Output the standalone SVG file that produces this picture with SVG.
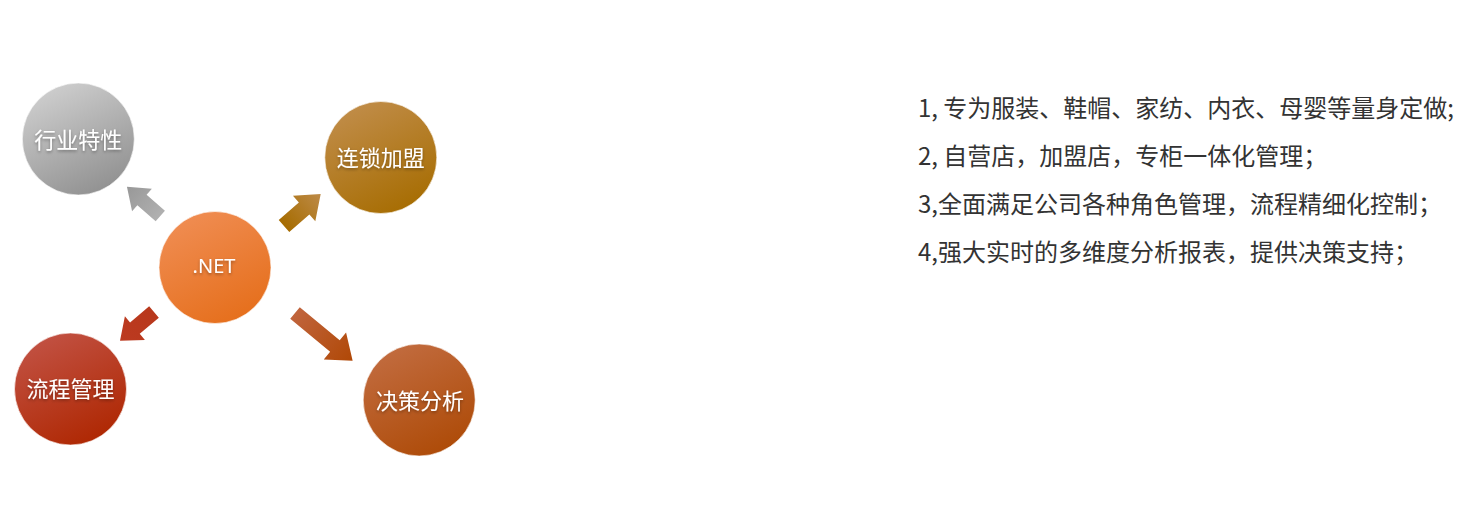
<svg xmlns="http://www.w3.org/2000/svg" width="1479" height="522" viewBox="0 0 1479 522">
  <style>
    .lbl { font-family: "Noto Sans CJK SC", "Noto Sans", sans-serif; font-size: 22px; fill: #ffffff; text-anchor: middle; dominant-baseline: central; }
    .net { font-family: "Noto Sans", "Noto Sans CJK SC", sans-serif; font-size: 20px; fill: #ffffff; text-anchor: middle; }
    .item { font-family: "Noto Sans CJK SC", "Noto Sans", sans-serif; font-size: 24px; fill: #333333; }
    .ring { stroke: #ffffff; stroke-opacity: 0.6; stroke-width: 1; }
  </style>
  <defs>
    <linearGradient id="gGray" x1="0.25" y1="0" x2="0.75" y2="1">
      <stop offset="0" stop-color="#cfcfcf"/>
      <stop offset="1" stop-color="#8f8f8f"/>
    </linearGradient>
    <linearGradient id="gGold" x1="0.25" y1="0" x2="0.75" y2="1">
      <stop offset="0" stop-color="#c18d4a"/>
      <stop offset="1" stop-color="#a66c00"/>
    </linearGradient>
    <linearGradient id="gNet" x1="0.25" y1="0" x2="0.75" y2="1">
      <stop offset="0" stop-color="#f08d53"/>
      <stop offset="1" stop-color="#e56e1a"/>
    </linearGradient>
    <linearGradient id="gRed" x1="0.25" y1="0" x2="0.75" y2="1">
      <stop offset="0" stop-color="#c25244"/>
      <stop offset="1" stop-color="#ae2600"/>
    </linearGradient>
    <linearGradient id="gBrown" x1="0.25" y1="0" x2="0.75" y2="1">
      <stop offset="0" stop-color="#c26c40"/>
      <stop offset="1" stop-color="#ad4a06"/>
    </linearGradient>
    <linearGradient id="aGray" x1="0" y1="0" x2="1" y2="0">
      <stop offset="0" stop-color="#b0b0b0"/>
      <stop offset="1" stop-color="#989898"/>
    </linearGradient>
    <linearGradient id="aGold" x1="0" y1="0" x2="1" y2="0">
      <stop offset="0" stop-color="#a66c00"/>
      <stop offset="1" stop-color="#bd8a47"/>
    </linearGradient>
    <linearGradient id="aRed" x1="0" y1="0" x2="1" y2="0">
      <stop offset="0" stop-color="#b8381c"/>
      <stop offset="1" stop-color="#bc3a20"/>
    </linearGradient>
    <linearGradient id="aBrown" x1="0" y1="0" x2="1" y2="0">
      <stop offset="0" stop-color="#c0643c"/>
      <stop offset="1" stop-color="#b04806"/>
    </linearGradient>
    <filter id="shadow" x="-20%" y="-40%" width="140%" height="180%">
      <feDropShadow dx="0" dy="1.5" stdDeviation="1.5" flood-color="#000000" flood-opacity="0.35"/>
    </filter>
  </defs>

  <g id="connectors">
    <path transform="translate(160.3,216) rotate(221.3)" d="M0,-7 L24.4,-7 L24.4,-15 L44.4,0 L24.4,15 L24.4,7 L0,7 Z" fill="url(#aGray)"/>
    <path transform="translate(284,226) rotate(-41.1)" d="M0,-8 L26.7,-8 L26.7,-17 L48.7,0 L26.7,17 L26.7,8 L0,8 Z" fill="url(#aGold)"/>
    <path transform="translate(154,312) rotate(139.8)" d="M0,-7.5 L25,-7.5 L25,-15.5 L44.5,0 L25,15.5 L25,7.5 L0,7.5 Z" fill="url(#aRed)"/>
    <path transform="translate(295,313) rotate(39.6)" d="M0,-7.5 L51.8,-7.5 L51.8,-17.5 L74.8,0 L51.8,17.5 L51.8,7.5 L0,7.5 Z" fill="url(#aBrown)"/>
  </g>

  <g id="node-industry">
    <circle cx="78.3" cy="139" r="56" fill="url(#gGray)" class="ring"/>
    <text x="78.3" y="137.5" class="lbl" filter="url(#shadow)">行业特性</text>
  </g>

  <g id="node-chain">
    <circle cx="380.8" cy="157.5" r="56" fill="url(#gGold)" class="ring"/>
    <text x="380.8" y="155.5" class="lbl" filter="url(#shadow)">连锁加盟</text>
  </g>

  <g id="node-net">
    <circle cx="215" cy="267.5" r="56" fill="url(#gNet)" class="ring"/>
    <text x="214" y="272.7" class="net" filter="url(#shadow)">.NET</text>
  </g>

  <g id="node-process">
    <circle cx="70.5" cy="389" r="56" fill="url(#gRed)" class="ring"/>
    <text x="70.5" y="387" class="lbl" filter="url(#shadow)">流程管理</text>
  </g>

  <g id="node-decision">
    <circle cx="419.2" cy="400" r="56" fill="url(#gBrown)" class="ring"/>
    <text x="420" y="398.5" class="lbl" filter="url(#shadow)">决策分析</text>
  </g>

  <g id="feature-list">
    <text x="918" y="117" class="item">1, 专为服装、鞋帽、家纺、内衣、母婴等量身定做;</text>
    <text x="918" y="165" class="item">2, 自营店，加盟店，专柜一体化管理；</text>
    <text x="918" y="213" class="item">3,全面满足公司各种角色管理，流程精细化控制；</text>
    <text x="918" y="261" class="item">4,强大实时的多维度分析报表，提供决策支持；</text>
  </g>
</svg>
